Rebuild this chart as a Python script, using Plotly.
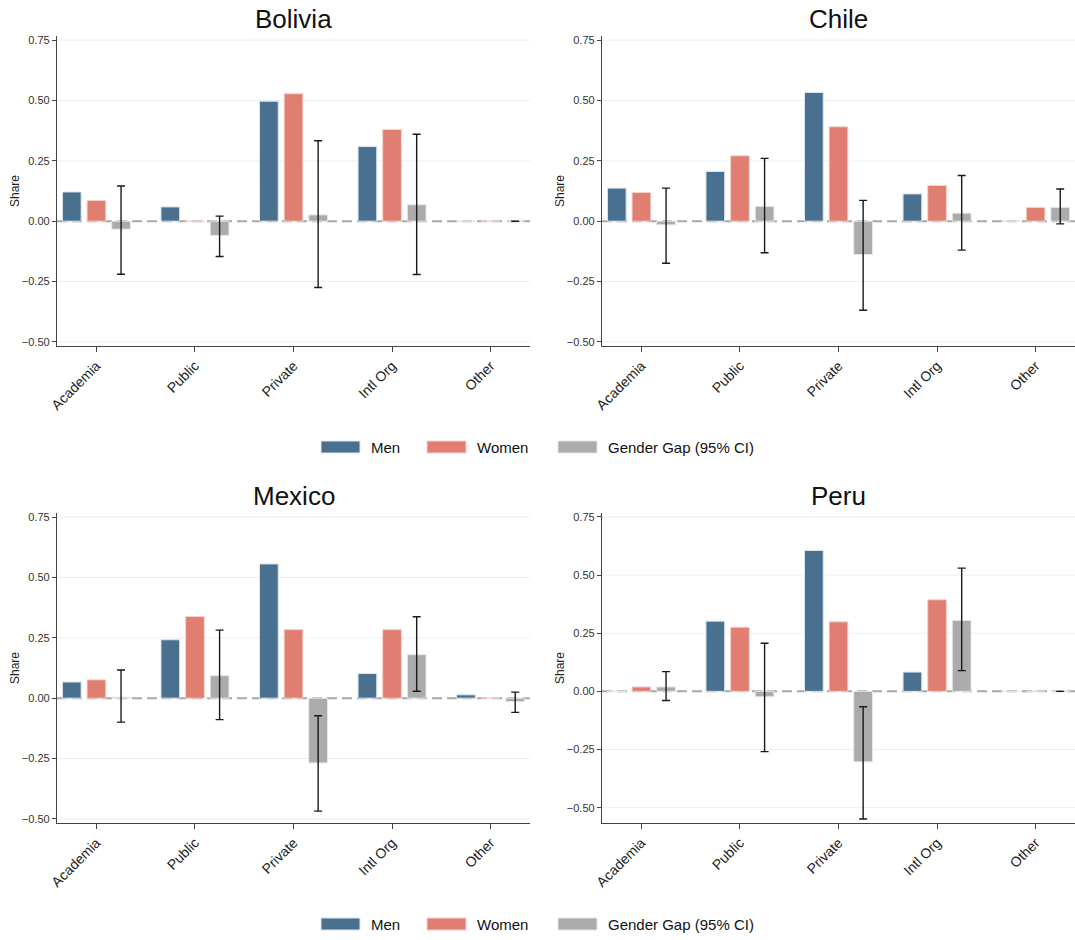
import plotly.graph_objects as go

W, H = 1075, 940

categories = ["Academia", "Public", "Private", "Intl Org", "Other"]
countries = ["Bolivia", "Chile", "Mexico", "Peru"]

# Shares
bolivia_men = [0.121, 0.059, 0.497, 0.309, 0.0]
bolivia_women = [0.086, 0.0, 0.528, 0.380, 0.0]
bolivia_gap = [-0.033, -0.059, 0.026, 0.068, 0.0]
bolivia_ci_low = [-0.220, -0.146, -0.275, -0.221, 0.0]
bolivia_ci_high = [0.146, 0.021, 0.333, 0.360, 0.0]

chile_men = [0.137, 0.206, 0.533, 0.113, 0.0]
chile_women = [0.119, 0.271, 0.391, 0.148, 0.057]
chile_gap = [-0.015, 0.061, -0.138, 0.033, 0.057]
chile_ci_low = [-0.174, -0.131, -0.369, -0.120, -0.011]
chile_ci_high = [0.137, 0.260, 0.086, 0.189, 0.133]

mexico_men = [0.067, 0.242, 0.556, 0.102, 0.014]
mexico_women = [0.076, 0.338, 0.284, 0.284, 0.0]
mexico_gap = [0.004, 0.093, -0.268, 0.180, -0.014]
mexico_ci_low = [-0.099, -0.089, -0.468, 0.029, -0.059]
mexico_ci_high = [0.117, 0.282, -0.073, 0.337, 0.025]

peru_men = [0.0, 0.302, 0.606, 0.083, 0.0]
peru_women = [0.019, 0.276, 0.299, 0.394, 0.0]
peru_gap = [0.019, -0.023, -0.303, 0.305, 0.0]
peru_ci_low = [-0.039, -0.259, -0.549, 0.089, 0.0]
peru_ci_high = [0.085, 0.207, -0.066, 0.530, 0.0]

y_ranges = {
    "Bolivia": [-0.517, 0.767],
    "Chile": [-0.517, 0.767],
    "Mexico": [-0.517, 0.767],
    "Peru": [-0.566, 0.767],
}
y_ticks = [-0.5, -0.25, 0.0, 0.25, 0.5, 0.75]

data = {
    "Bolivia": (bolivia_men, bolivia_women, bolivia_gap, bolivia_ci_low, bolivia_ci_high),
    "Chile": (chile_men, chile_women, chile_gap, chile_ci_low, chile_ci_high),
    "Mexico": (mexico_men, mexico_women, mexico_gap, mexico_ci_low, mexico_ci_high),
    "Peru": (peru_men, peru_women, peru_gap, peru_ci_low, peru_ci_high),
}

MEN_C = "#4a7090"
WOMEN_C = "#df7e71"
GAP_C = "#ababab"
MEN_L = "#dce6ee"
WOMEN_L = "#f7d2cc"
GAP_L = "#e6e6e6"
GRID_C = "#e9f0f2"
FONT = "Liberation Sans, Arial, sans-serif"

# panel pixel boxes: (left, right, top, bottom)
boxes = {
    "Bolivia": (57, 530, 36, 346),
    "Chile": (602, 1075, 36, 346),
    "Mexico": (57, 530, 513, 823),
    "Peru": (602, 1075, 513, 823),
}

fig = go.Figure()
layout = dict(
    width=W, height=H,
    paper_bgcolor="white", plot_bgcolor="white",
    margin=dict(l=0, r=0, t=0, b=0, autoexpand=False),
    showlegend=False,
    barmode="group", bargap=0.25, bargroupgap=0.24,
    font=dict(family=FONT, color="#222"),
)
annotations = []
shapes = []

for i, c in enumerate(countries):
    n = "" if i == 0 else str(i + 1)
    xa, ya = "x" + n, "y" + n
    men, women, gap, lo, hi = data[c]
    plus = [h - g for h, g in zip(hi, gap)]
    minus = [g - l for g, l in zip(gap, lo)]
    fig.add_trace(go.Bar(x=categories, y=men, name="Men", marker=dict(color=MEN_C, line=dict(color=MEN_L, width=1)),
                         xaxis=xa, yaxis=ya, offsetgroup="1"))
    fig.add_trace(go.Bar(x=categories, y=women, name="Women", marker=dict(color=WOMEN_C, line=dict(color=WOMEN_L, width=1)),
                         xaxis=xa, yaxis=ya, offsetgroup="2"))
    fig.add_trace(go.Bar(x=categories, y=gap, name="Gender Gap (95% CI)",
                         marker=dict(color=GAP_C, line=dict(color=GAP_L, width=1)),
                         error_y=dict(type="data", array=plus, arrayminus=minus, color="#1a1a1a", thickness=1.4, width=4),
                         xaxis=xa, yaxis=ya, offsetgroup="3"))
    l, r, t, b = boxes[c]
    xdom = [l / W, r / W]
    ydom = [1 - b / H, 1 - t / H]
    layout["xaxis" + n] = dict(
        domain=xdom, anchor=ya, type="category", range=[-0.4, 4.4], automargin=False,
        showline=True, linecolor="#444", linewidth=1.3, ticks="outside", ticklen=5, tickcolor="#444",
        tickangle=-45, tickfont=dict(size=14, color="#222", family=FONT), showgrid=False, zeroline=False,
    )
    layout["yaxis" + n] = dict(
        domain=ydom, anchor=xa, range=y_ranges[c], tickvals=y_ticks, tickformat=".2f", automargin=False,
        showline=True, linecolor="#444", linewidth=1.3, ticks="outside", ticklen=4, tickcolor="#444",
        tickfont=dict(size=11, color="#333", family=FONT), showgrid=False, zeroline=False,
    )
    # light gridlines at the non-zero ticks, then the dashed zero line, all beneath the bars
    for tv in y_ticks:
        if tv != 0:
            shapes.append(dict(type="line", xref=xa + " domain", yref=ya, x0=0, x1=1, y0=tv, y1=tv,
                               line=dict(color=GRID_C, width=1), layer="below"))
    shapes.append(dict(type="line", xref=xa + " domain", yref=ya, x0=0, x1=1, y0=0, y1=0,
                       line=dict(color="#a8a8a8", width=2, dash="10px,5px"), layer="below"))
    annotations.append(dict(text=c, x=(l + r) / 2 / W, y=1 - (t - 17) / H, xref="paper", yref="paper",
                            xanchor="center", yanchor="middle", showarrow=False,
                            font=dict(size=26, color="#111", family=FONT)))
    annotations.append(dict(text="Share", x=(l - 42) / W, y=1 - (t + b) / 2 / H, xref="paper", yref="paper",
                            xanchor="center", yanchor="middle", showarrow=False, textangle=-90,
                            font=dict(size=12, color="#222", family=FONT)))

# legends (one under each row)
legend_items = [("Men", MEN_C, MEN_L, 321), ("Women", WOMEN_C, WOMEN_L, 427), ("Gender Gap (95% CI)", GAP_C, GAP_L, 558)]
for ly in (447, 924):
    for label, col, lcol, x0 in legend_items:
        shapes.append(dict(type="rect", xref="paper", yref="paper", x0=x0 / W, x1=(x0 + 39) / W,
                           y0=1 - (ly + 6) / H, y1=1 - (ly - 6) / H, fillcolor=col, line=dict(color=lcol, width=1)))
        annotations.append(dict(text=label, x=(x0 + 48) / W, y=1 - ly / H, xref="paper", yref="paper",
                                xanchor="left", yanchor="middle", showarrow=False,
                                font=dict(size=15, color="#111", family=FONT)))

layout["shapes"] = shapes
layout["annotations"] = annotations
fig.update_layout(**layout)
fig.write_html("out.html")
